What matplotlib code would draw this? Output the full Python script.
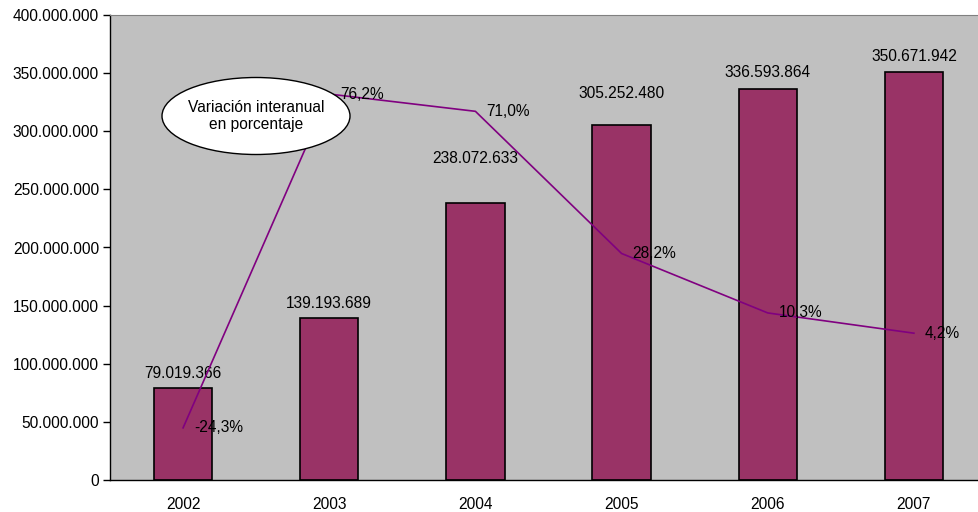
import matplotlib
matplotlib.use("Agg")
import matplotlib.pyplot as plt
from matplotlib.patches import Ellipse
from matplotlib.ticker import FuncFormatter

years = ["2002", "2003", "2004", "2005", "2006", "2007"]
values = [79019366, 139193689, 238072633, 305252480, 336593864, 350671942]
pct = [-24.3, 76.2, 71.0, 28.2, 10.3, 4.2]
value_labels = ["79.019.366", "139.193.689", "238.072.633", "305.252.480", "336.593.864", "350.671.942"]
pct_labels = ["-24,3%", "76,2%", "71,0%", "28,2%", "10,3%", "4,2%"]

plt.rcParams['font.family'] = ['Liberation Sans', 'DejaVu Sans']
FS = 11.2

W, H = 979, 512
fig = plt.figure(figsize=(W / 100, H / 100), dpi=100)
left, right, top, bottom = 110, 987, 15, 480
ax = fig.add_axes([left / W, (H - bottom) / H, (right - left) / W, (bottom - top) / H])
ax.set_facecolor('#C0C0C0')

x = list(range(len(years)))
ax.bar(x, values, width=0.4, color='#993366', edgecolor='black', linewidth=1.2, zorder=2)
ax.set_xlim(-0.5, len(years) - 0.5)
ax.set_ylim(0, 400000000)
ax.set_yticks(range(0, 400000001, 50000000))
ax.yaxis.set_major_formatter(FuncFormatter(lambda v, p: f"{int(v):,}".replace(",", ".")))
ax.set_xticks(x)
ax.set_xticklabels(years)
ax.tick_params(axis='x', length=0, pad=12, labelsize=FS)
ax.tick_params(axis='y', length=5, width=1, direction='out', labelsize=FS, pad=3)
ax.spines['right'].set_visible(False)
ax.spines['top'].set_color('#808080')
ax.spines['top'].set_linewidth(0.8)
ax.spines['left'].set_linewidth(1.0)
ax.spines['bottom'].set_linewidth(1.0)

# bar labels (pixel offsets above bar top)
label_offsets = [15, 15, 45, 32, 16, 16]
for xi, v, lab, off in zip(x, values, value_labels, label_offsets):
    ax.annotate(lab, (xi, v), xytext=(0, off * 0.72), textcoords='offset points',
                ha='center', va='center', fontsize=FS, zorder=5)

ax2 = ax.twinx()
ax2.set_ylim(-40, 100)
ax2.plot(x, pct, color='#800080', linewidth=1.2, zorder=3)
ax2.axis('off')
for xi, p, lab in zip(x, pct, pct_labels):
    ax2.annotate(lab, (xi, p), xytext=(8, 0), textcoords='offset points',
                 ha='left', va='center', fontsize=FS, zorder=5)

# callout ellipse
ecx, ecy = 256, 116
ell = Ellipse((ecx / W, 1 - ecy / H), 188 / W, 77 / H, transform=fig.transFigure,
              facecolor='white', edgecolor='black', linewidth=1.0, zorder=10)
fig.patches.append(ell)
fig.text(ecx / W, 1 - ecy / H, "Variación interanual\nen porcentaje", ha='center', va='center',
         fontsize=FS, zorder=11, linespacing=1.15)

fig.savefig("out.png", dpi=100)
